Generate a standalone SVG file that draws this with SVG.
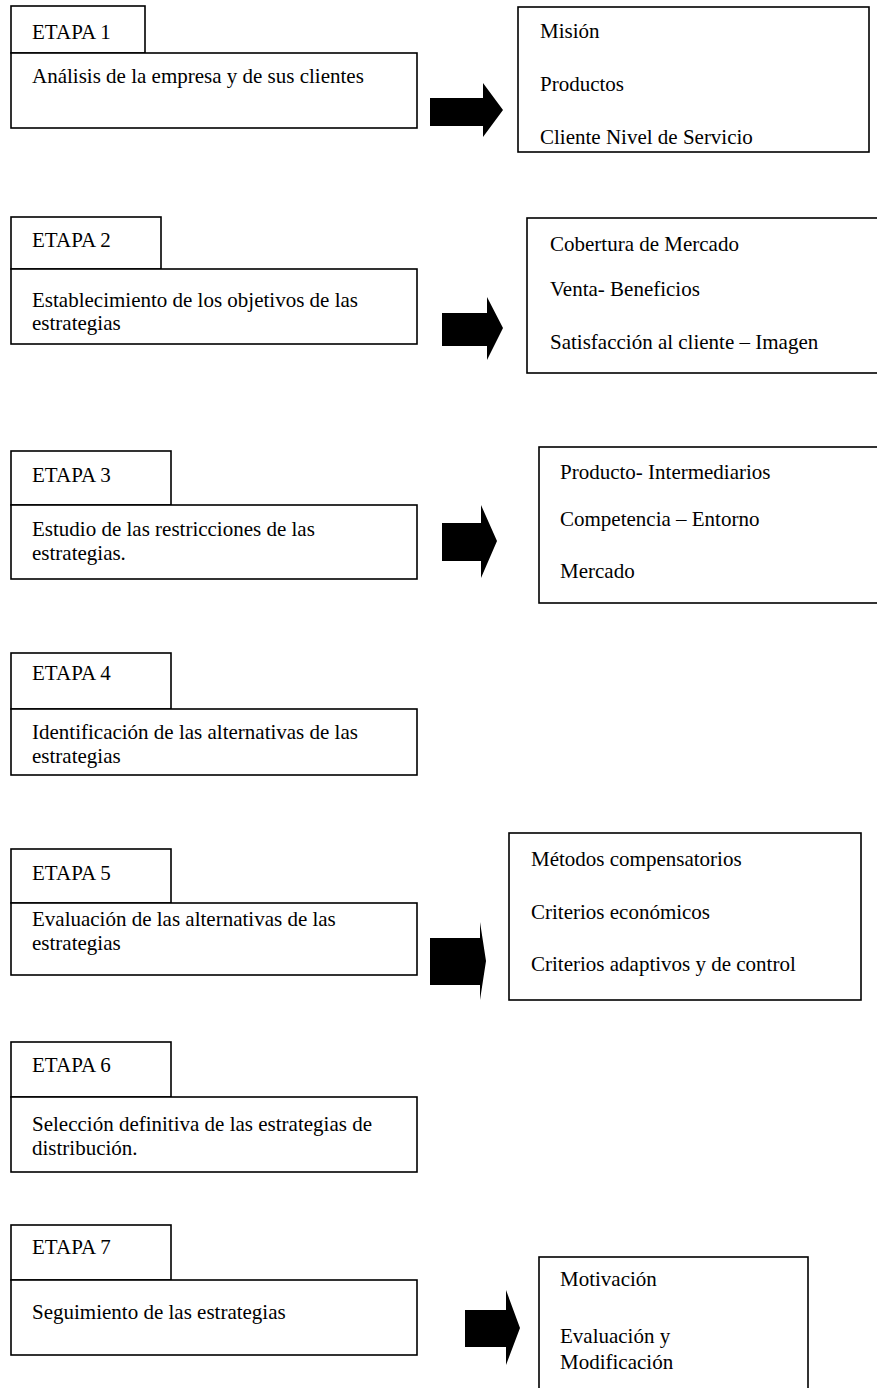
<svg xmlns="http://www.w3.org/2000/svg" width="877" height="1388" viewBox="0 0 877 1388">
<style>
.b{fill:#fff;stroke:#000;stroke-width:1.6}
.t{font-family:"Liberation Serif","Times New Roman",serif;font-size:21px;fill:#000}
.a{fill:#000;stroke:none}
</style>
<rect width="877" height="1388" fill="#fff"/>
<g id="etapa1">
<rect class="b" x="11" y="6" width="134" height="47"/>
<rect class="b" x="11" y="53" width="406" height="75"/>
<text class="t" x="32" y="39">ETAPA 1</text>
<text class="t" x="32" y="83">Análisis de la empresa y de sus clientes</text>
</g>
<g id="res1">
<rect class="b" x="518" y="7" width="351" height="145"/>
<text class="t" x="540" y="38">Misión</text>
<text class="t" x="540" y="91">Productos</text>
<text class="t" x="540" y="144">Cliente  Nivel de Servicio</text>
</g>
<g id="etapa2">
<rect class="b" x="11" y="217" width="150" height="52"/>
<rect class="b" x="11" y="269" width="406" height="75"/>
<text class="t" x="32" y="247">ETAPA 2</text>
<text class="t" x="32" y="307">Establecimiento de los objetivos de las</text>
<text class="t" x="32" y="330">estrategias</text>
</g>
<g id="res2">
<rect class="b" x="527" y="218" width="380" height="155"/>
<text class="t" x="550" y="251">Cobertura de Mercado</text>
<text class="t" x="550" y="296">Venta- Beneficios</text>
<text class="t" x="550" y="349">Satisfacción al cliente – Imagen</text>
</g>
<g id="etapa3">
<rect class="b" x="11" y="451" width="160" height="54"/>
<rect class="b" x="11" y="505" width="406" height="74"/>
<text class="t" x="32" y="482">ETAPA 3</text>
<text class="t" x="32" y="536">Estudio de las restricciones de las</text>
<text class="t" x="32" y="560">estrategias.</text>
</g>
<g id="res3">
<rect class="b" x="539" y="447" width="380" height="156"/>
<text class="t" x="560" y="479">Producto- Intermediarios</text>
<text class="t" x="560" y="526">Competencia – Entorno</text>
<text class="t" x="560" y="578">Mercado</text>
</g>
<g id="etapa4">
<rect class="b" x="11" y="653" width="160" height="56"/>
<rect class="b" x="11" y="709" width="406" height="66"/>
<text class="t" x="32" y="680">ETAPA 4</text>
<text class="t" x="32" y="739">Identificación de las alternativas de las</text>
<text class="t" x="32" y="763">estrategias</text>
</g>
<g id="etapa5">
<rect class="b" x="11" y="849" width="160" height="54"/>
<rect class="b" x="11" y="903" width="406" height="72"/>
<text class="t" x="32" y="880">ETAPA 5</text>
<text class="t" x="32" y="926">Evaluación de las alternativas de las</text>
<text class="t" x="32" y="950">estrategias</text>
</g>
<g id="res5">
<rect class="b" x="509" y="833" width="352" height="167"/>
<text class="t" x="531" y="866">Métodos compensatorios</text>
<text class="t" x="531" y="919">Criterios económicos</text>
<text class="t" x="531" y="971">Criterios adaptivos y de control</text>
</g>
<g id="etapa6">
<rect class="b" x="11" y="1042" width="160" height="55"/>
<rect class="b" x="11" y="1097" width="406" height="75"/>
<text class="t" x="32" y="1072">ETAPA 6</text>
<text class="t" x="32" y="1131">Selección definitiva de las estrategias de</text>
<text class="t" x="32" y="1155">distribución.</text>
</g>
<g id="etapa7">
<rect class="b" x="11" y="1225" width="160" height="55"/>
<rect class="b" x="11" y="1280" width="406" height="75"/>
<text class="t" x="32" y="1254">ETAPA 7</text>
<text class="t" x="32" y="1319">Seguimiento de las estrategias</text>
</g>
<g id="res7">
<rect class="b" x="539" y="1257" width="269" height="160"/>
<text class="t" x="560" y="1286">Motivación</text>
<text class="t" x="560" y="1343">Evaluación y</text>
<text class="t" x="560" y="1369">Modificación</text>
</g>
<g id="connectors">
<polygon class="a" points="430,98 483,98 483,83 503,110 483,137 483,126 430,126"/>
<polygon class="a" points="442,313 487,313 487,297 503,328 487,360 487,346 442,346"/>
<polygon class="a" points="442,523 481,523 481,505 497,541 481,578 481,561 442,561"/>
<polygon class="a" points="430,938 480,938 480,922 486,961 480,1000 480,985 430,985"/>
<polygon class="a" points="465,1310 506,1310 506,1290 520,1328 506,1365 506,1347 465,1347"/>
</g>
</svg>
